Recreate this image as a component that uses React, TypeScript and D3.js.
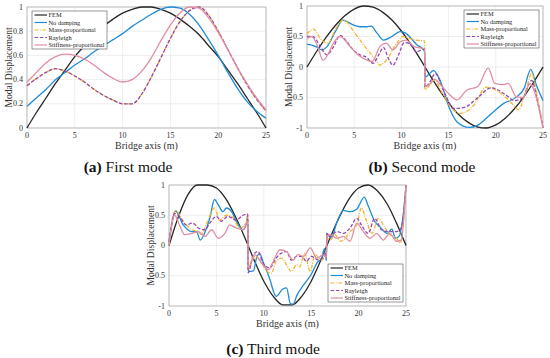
import React from 'react'
import * as d3 from 'd3'

const W = 550
const H = 358

const xTicks = [0, 5, 10, 15, 20, 25]
const legendNames = ['FEM', 'No damping', 'Mass-proportional', 'Rayleigh', 'Stiffness-proportional']

// first mode, read every metre
const xA = [0, 1, 2, 3, 4, 5, 6, 7, 8, 9, 10, 11, 12, 13, 14, 15, 16, 17, 18, 19, 20, 21, 22, 23, 24, 25]
const femA = [0, .13, .25, .37, .48, .59, .68, .77, .84, .9, .95, .98, 1, 1, .98, .95, .9, .84, .77, .68, .59, .48, .37, .25, .13, 0]
const noDampA = [.18, .25, .32, .4, .46, .52, .57, .63, .68, .73, .78, .84, .89, .94, .98, 1, .99, .94, .85, .73, .6, .46, .33, .22, .14, .08]
const massA = [.35, .41, .46, .49, .47, .43, .38, .32, .27, .23, .2, .2, .28, .42, .58, .74, .88, .97, 1, .93, .8, .65, .5, .36, .24, .14]
const rayA = [.35, .41, .46, .49, .47, .43, .38, .32, .27, .23, .2, .2, .28, .42, .58, .74, .88, .97, 1, .93, .8, .65, .5, .36, .24, .14]
const stiffA = [.38, .46, .54, .59, .61, .6, .57, .52, .46, .41, .38, .4, .47, .58, .72, .85, .95, 1, .99, .91, .79, .65, .5, .37, .25, .15]

// second mode
const femB = [0, .25, .48, .68, .84, .95, 1, .98, .9, .77, .59, .37, .13, -.13, -.37, -.59, -.77, -.9, -.98, -1, -.95, -.84, -.68, -.48, -.25, 0]
const noDampB: [number, number][] = [[0, .37], [0.5, .36], [1, .33], [1.55, .28], [2.1, .33], [3.1, .61], [3.8, .77], [4.9, .69], [5.6, .66], [6.3, .66], [6.8, .67], [7.4, .56], [8.1, .44], [9, .5], [9.85, .58], [10.4, .56], [11.6, .37], [12.45, .26], [12.5, -.17], [12.9, -.12], [13.4, -.06], [14.1, -.22], [15.1, -.68], [15.9, -.9], [17.2, -.99], [18, -.96], [19, -.84], [20, -.7], [20.8, -.6], [22.2, -.49], [23, -.35], [23.7, -.04], [24.3, -.3], [25, -.55]]
const massB: [number, number][] = [[0, .54], [0.67, .62], [1.55, .44], [2.2, .39], [3.1, .64], [3.85, .77], [5.1, .55], [5.9, .38], [6.85, .2], [7.4, .09], [7.7, .03], [8.4, .11], [9.5, .39], [10.2, .5], [10.8, .47], [11.6, .44], [12.45, .43], [12.5, -.37], [13, -.3], [13.5, -.21], [14.3, -.42], [15.5, -.7], [16.2, -.76], [17.6, -.64], [19, -.33], [20, -.38], [21.5, -.56], [22.4, -.7], [23.3, -.32], [23.8, -.1], [24.3, -.4], [25, -1]]
const rayB: [number, number][] = [[0, .5], [0.6, .5], [1.4, .34], [2.1, .2], [2.8, .33], [3.5, .52], [4.2, .42], [4.9, .28], [5.6, .2], [6.3, .16], [7, .06], [7.6, .2], [8.1, .32], [8.6, .15], [9.1, .03], [9.7, .2], [10.3, .4], [10.9, .38], [11.6, .25], [12.45, .3], [12.5, -.33], [13, -.25], [13.6, -.11], [14.5, -.4], [15.6, -.68], [16.7, -.66], [18.1, -.5], [19.5, -.34], [20.9, -.44], [22, -.55], [22.9, -.5], [23.8, -.22], [24.4, -.55], [25, -1]]
const stiffB: [number, number][] = [[0, .47], [0.5, .5], [1.1, .35], [1.7, .11], [2.2, .2], [2.8, .39], [3.5, .5], [4.6, .33], [5.4, .2], [6, .14], [6.9, .09], [7.7, .33], [8.4, .39], [9.1, .28], [9.85, .41], [10.5, .44], [11.4, .33], [12.45, .3], [12.5, -.32], [13, -.28], [13.5, -.2], [14.2, -.3], [15.15, -.46], [15.9, -.54], [16.9, -.38], [18.1, -.32], [19.2, -.02], [19.9, -.27], [20.8, -.29], [21.3, -.27], [22.2, -.49], [22.9, -.5], [23.6, -.27], [24.2, -.45], [25, -1]]

// third mode
const femC = [0, .48, .84, 1, 1, .95, .77, .48, .13, -.25, -.59, -.84, -.98, -.98, -.84, -.59, -.25, .13, .48, .77, .95, 1, .9, .69, .37, 0]
const noDampC: [number, number][] = [[0, .04], [0.7, .57], [1.5, .34], [2.4, .23], [2.9, .23], [3.3, .09], [3.9, .26], [4.3, .45], [4.8, .76], [5.2, .67], [5.7, .56], [6.05, .62], [6.6, .56], [7.1, .4], [7.8, .26], [8.15, .35], [8.3, .5], [8.35, -.43], [8.9, -.42], [9.3, -.17], [9.6, -.14], [9.9, -.26], [10.6, -.54], [11.3, -.84], [12, -.72], [12.4, -.7], [12.8, -.96], [13.1, -.97], [13.5, -.82], [14.2, -.65], [15, -.48], [15.6, -.29], [16.1, -.21], [16.4, -.05], [16.6, -.25], [16.65, .2], [17.1, .12], [17.7, .38], [18.4, .58], [19.1, .56], [19.8, .6], [20.6, .8], [21, .66], [21.7, .4], [22.3, .3], [23, .2], [23.5, .27], [23.9, .12], [24.3, .16], [24.7, .5], [25, .98]]
const massC: [number, number][] = [[0, .01], [0.7, .58], [1.5, .4], [2.4, .26], [3.1, .23], [3.4, .18], [3.9, .34], [4.8, .62], [5.35, .42], [6.05, .5], [6.6, .48], [7.5, .29], [8.2, .4], [8.3, .52], [8.35, -.4], [9.05, -.18], [9.6, -.24], [10.3, -.42], [10.8, -.46], [11.3, -.26], [11.9, -.21], [12.4, -.32], [12.9, -.43], [13.45, -.32], [13.8, -.35], [14.3, -.13], [14.9, -.43], [15.4, -.15], [16.1, -.24], [16.6, -.08], [16.65, .15], [17, .09], [17.5, .18], [18.1, .07], [18.6, .12], [19.1, .23], [19.8, .34], [20.3, .62], [20.8, .42], [21.4, .2], [22.1, .45], [22.6, .34], [23.3, .18], [24, .12], [24.4, .04], [25, 1]]
const rayC: [number, number][] = [[0, .07], [0.6, .53], [1.1, .48], [1.8, .34], [2.5, .37], [3.1, .29], [3.8, .26], [4.3, .37], [5, .48], [5.5, .4], [6.2, .48], [7.1, .42], [7.8, .5], [8.3, .52], [8.35, -.45], [8.9, -.15], [9.4, -.1], [9.9, -.29], [10.6, -.37], [11.3, -.21], [11.8, -.13], [12.4, -.1], [12.9, -.24], [13.45, -.18], [14, -.18], [14.5, -.26], [15, -.18], [15.8, -.24], [16.6, -.1], [16.65, .2], [17, .15], [17.7, .23], [18.4, .2], [19.1, .29], [19.8, .45], [20.3, .34], [21, .2], [21.7, .45], [22.4, .26], [23.1, .23], [24, .23], [24.5, .29], [25, 1]]
const stiffC: [number, number][] = [[0, .01], [0.6, .5], [1.1, .34], [1.65, .18], [2.4, .2], [3.1, .23], [3.8, .15], [4.5, .26], [5.2, .12], [5.9, .2], [6.4, .34], [7.1, .29], [7.8, .26], [8.3, .4], [8.35, -.37], [9.05, -.15], [9.75, -.29], [10.5, -.4], [11, -.26], [11.7, -.07], [12.4, -.1], [13.1, -.24], [13.6, -.15], [14.2, -.18], [14.9, -.04], [15.6, -.21], [16.3, -.15], [16.6, -.2], [16.65, .15], [17, .18], [17.7, .12], [18.4, .15], [19.1, .07], [19.8, .37], [20.5, .23], [21.2, .12], [21.9, .2], [22.6, .09], [23.3, .2], [24, .07], [24.5, .09], [25, 1]]

const yTicksA = [0, 0.2, 0.4, 0.6, 0.8, 1]
const yLabelsA = ['0', '0.2', '0.4', '0.6', '0.8', '1']
const yTicksBC = [-1, -0.5, 0, 0.5, 1]
const yLabelsBC = ['-1', '-0.5', '0', '0.5', '1']

const styles = [
  { color: '#262626', dash: undefined },
  { color: '#1f8cd6', dash: undefined },
  { color: '#f3b531', dash: '4,1.3,1,1.3' },
  { color: '#9448b0', dash: '3.5,1.8' },
  { color: '#e08ea3', dash: undefined },
]

const serif = "'Liberation Serif', 'DejaVu Serif', serif"
const zip = (xs: number[], ys: number[]) => xs.map((x, i) => [x, ys[i]] as [number, number])

type PanelProps = {
  left: number; right: number; top: number; bottom: number
  yDomain: [number, number]; yTicks: number[]; yLabels: string[]
  series: [number, number][][]
  legend: [number, number]
  tag: string; caption: string; capX: number; capY: number
}

function Panel(p: PanelProps) {
  const x = d3.scaleLinear().domain([0, 25]).range([p.left, p.right])
  const y = d3.scaleLinear().domain(p.yDomain).range([p.bottom, p.top])
  const line = d3.line<[number, number]>().x(d => x(d[0])).y(d => y(d[1])).curve(d3.curveMonotoneX)
  const [lx, ly] = p.legend
  return (
    <g>
      {xTicks.map(t => <line key={'gx' + t} x1={x(t)} x2={x(t)} y1={p.top} y2={p.bottom} stroke="#e2e2e2" strokeWidth={0.6} />)}
      {p.yTicks.map(t => <line key={'gy' + t} x1={p.left} x2={p.right} y1={y(t)} y2={y(t)} stroke="#e2e2e2" strokeWidth={0.6} />)}
      <rect x={p.left} y={p.top} width={p.right - p.left} height={p.bottom - p.top} fill="none" stroke="#9a9a9a" strokeWidth={0.6} />
      {xTicks.map(t => (
        <text key={'tx' + t} x={x(t)} y={p.bottom + 10} fontSize={8} textAnchor="middle" fill="#333">{t}</text>
      ))}
      {p.yTicks.map((t, i) => (
        <text key={'ty' + t} x={p.left - 4} y={y(t)} dy="0.33em" fontSize={8} textAnchor="end" fill="#333">{p.yLabels[i]}</text>
      ))}
      <text x={(p.left + p.right) / 2} y={p.bottom + 21} fontSize={10} textAnchor="middle" fill="#333">Bridge axis (m)</text>
      <text transform={`translate(${p.left - 15.5},${(p.top + p.bottom) / 2}) rotate(-90)`} fontSize={9.6} textAnchor="middle" fill="#333">Modal Displacement</text>
      {p.series.map((s, i) => (
        <path key={'s' + i} d={line(s) || ''} fill="none" stroke={styles[i].color} strokeWidth={1.3} strokeDasharray={styles[i].dash} />
      ))}
      <rect x={lx} y={ly} width={75} height={38} fill="#fff" stroke="#333" strokeWidth={0.5} />
      {legendNames.map((n, i) => (
        <g key={n}>
          <line x1={lx + 2.5} x2={lx + 15} y1={ly + 4 + i * 7.5} y2={ly + 4 + i * 7.5} stroke={styles[i].color} strokeWidth={1.2} strokeDasharray={styles[i].dash} />
          <text x={lx + 16.5} y={ly + 4 + i * 7.5} dy="0.33em" fontSize={6.4} fill="#222">{n}</text>
        </g>
      ))}
      <text x={p.capX} y={p.capY} fontSize={15.5} textAnchor="middle" fill="#111">
        <tspan fontWeight="bold">{p.tag}</tspan> {p.caption}
      </text>
    </g>
  )
}

export default function App() {
  return (
    <svg width={W} height={H} style={{ position: 'absolute', left: 0, top: 0, background: '#fff', fontFamily: serif }}>
      <Panel left={27} right={266} top={7} bottom={128} yDomain={[0, 1]} yTicks={yTicksA} yLabels={yLabelsA}
        series={[zip(xA, femA), zip(xA, noDampA), zip(xA, massA), zip(xA, rayA), zip(xA, stiffA)]}
        legend={[32, 11]} tag="(a)" caption="First mode" capX={128} capY={172} />
      <Panel left={307} right={543} top={6} bottom={128} yDomain={[-1, 1]} yTicks={yTicksBC} yLabels={yLabelsBC}
        series={[zip(xA, femB), noDampB, massB, rayB, stiffB]}
        legend={[464, 10]} tag="(b)" caption="Second mode" capX={422} capY={172} />
      <Panel left={169} right={406} top={185} bottom={306} yDomain={[-1, 1]} yTicks={yTicksBC} yLabels={yLabelsBC}
        series={[zip(xA, femC), noDampC, massC, rayC, stiffC]}
        legend={[328, 264]} tag="(c)" caption="Third mode" capX={273} capY={354} />
    </svg>
  )
}
